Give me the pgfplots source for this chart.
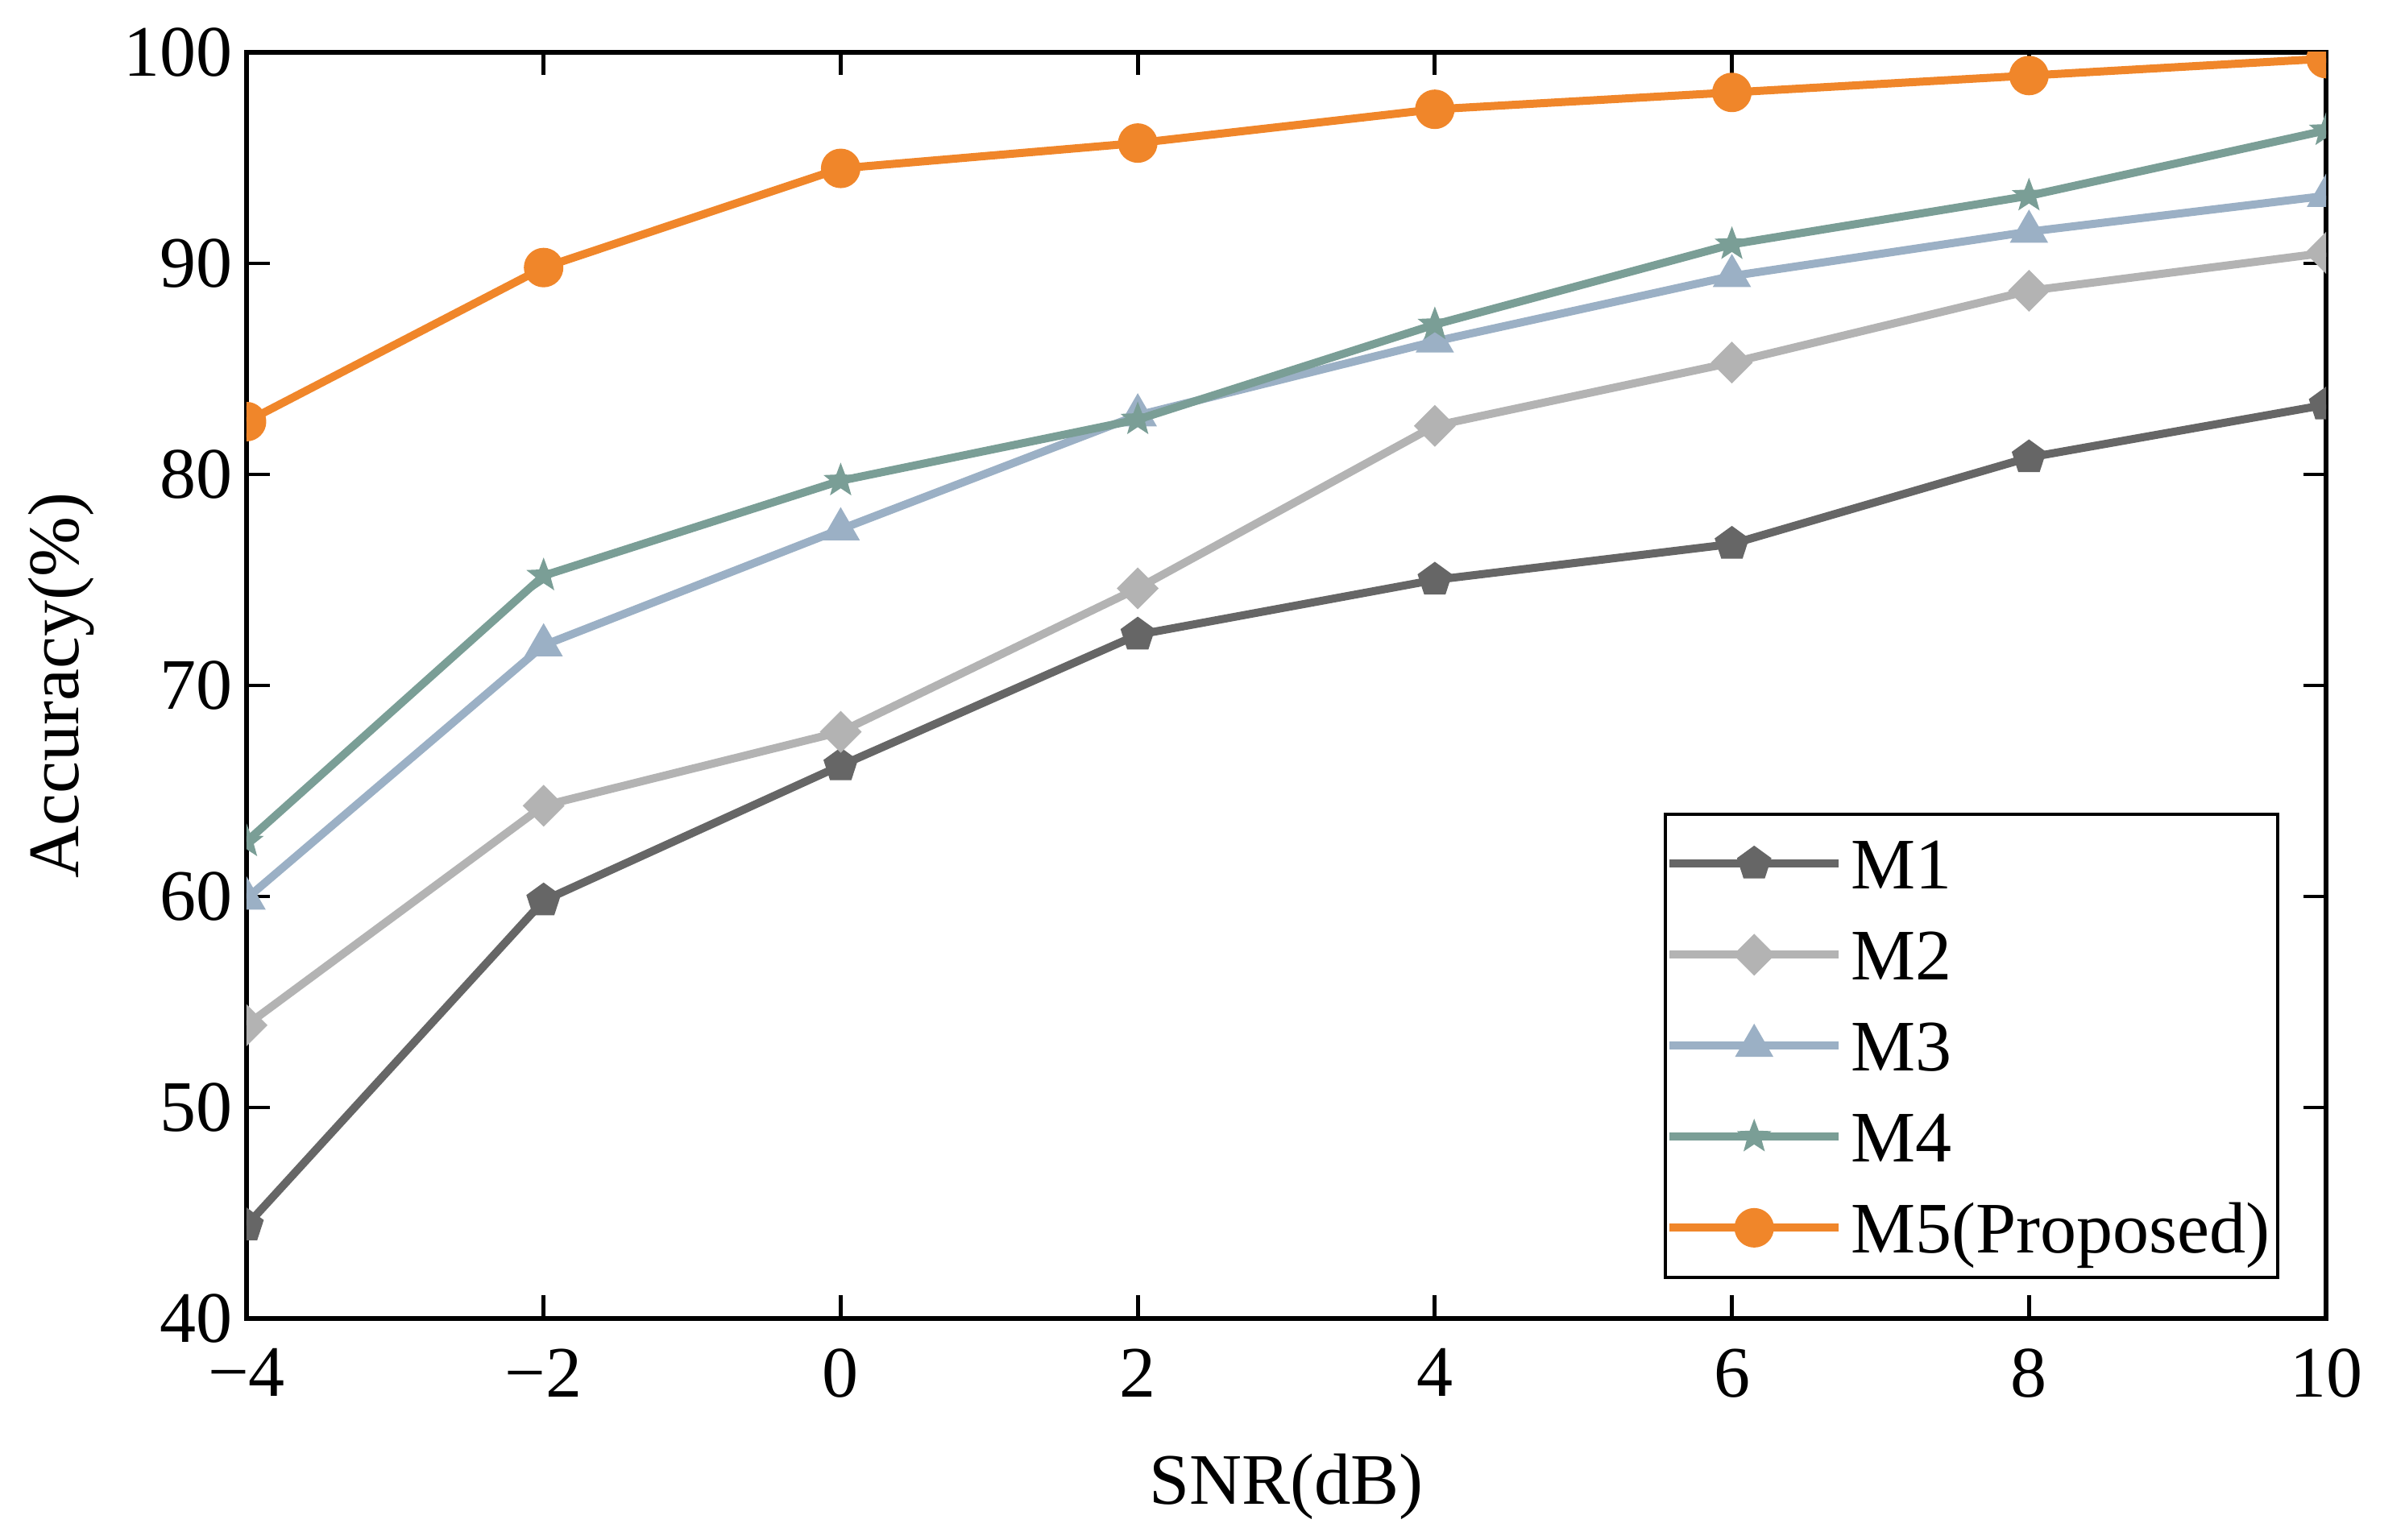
\documentclass[border=0pt]{standalone}
\usepackage{fontspec}
\setmainfont{Liberation Serif}
\usepackage{pgfplots}
\pgfplotsset{compat=1.18}

\definecolor{cM1}{RGB}{102,102,102}
\definecolor{cM2}{RGB}{179,179,179}
\definecolor{cM3}{RGB}{155,176,197}
\definecolor{cM4}{RGB}{122,158,150}
\definecolor{cM5}{RGB}{240,134,42}

% filled marks, \pgfplotmarksize = circumradius
\pgfdeclareplotmark{fpent}{%
  \pgfpathmoveto{\pgfpointpolar{90}{\pgfplotmarksize}}%
  \pgfpathlineto{\pgfpointpolar{162}{\pgfplotmarksize}}%
  \pgfpathlineto{\pgfpointpolar{234}{\pgfplotmarksize}}%
  \pgfpathlineto{\pgfpointpolar{306}{\pgfplotmarksize}}%
  \pgfpathlineto{\pgfpointpolar{18}{\pgfplotmarksize}}%
  \pgfpathclose\pgfusepathqfill}
\pgfdeclareplotmark{fdiam}{%
  \pgfpathmoveto{\pgfpoint{0pt}{\pgfplotmarksize}}%
  \pgfpathlineto{\pgfpoint{\pgfplotmarksize}{0pt}}%
  \pgfpathlineto{\pgfpoint{0pt}{-\pgfplotmarksize}}%
  \pgfpathlineto{\pgfpoint{-\pgfplotmarksize}{0pt}}%
  \pgfpathclose\pgfusepathqfill}
\pgfdeclareplotmark{ftri}{%
  \pgfpathmoveto{\pgfpointpolar{90}{\pgfplotmarksize}}%
  \pgfpathlineto{\pgfpointpolar{210}{\pgfplotmarksize}}%
  \pgfpathlineto{\pgfpointpolar{330}{\pgfplotmarksize}}%
  \pgfpathclose\pgfusepathqfill}
\pgfdeclareplotmark{fstar}{%
  \pgfpathmoveto{\pgfpointpolar{90}{\pgfplotmarksize}}%
  \pgfpathlineto{\pgfpointpolar{126}{0.42\pgfplotmarksize}}%
  \pgfpathlineto{\pgfpointpolar{162}{\pgfplotmarksize}}%
  \pgfpathlineto{\pgfpointpolar{198}{0.42\pgfplotmarksize}}%
  \pgfpathlineto{\pgfpointpolar{234}{\pgfplotmarksize}}%
  \pgfpathlineto{\pgfpointpolar{270}{0.42\pgfplotmarksize}}%
  \pgfpathlineto{\pgfpointpolar{306}{\pgfplotmarksize}}%
  \pgfpathlineto{\pgfpointpolar{342}{0.42\pgfplotmarksize}}%
  \pgfpathlineto{\pgfpointpolar{18}{\pgfplotmarksize}}%
  \pgfpathlineto{\pgfpointpolar{54}{0.42\pgfplotmarksize}}%
  \pgfpathclose\pgfusepathqfill}

\begin{document}
\begin{tikzpicture}[font=\fontsize{18}{21}\selectfont]
  \begin{axis}[name=ax,
      width=516.2pt, height=314.4pt, scale only axis,
      xmin=-4, xmax=10, ymin=40, ymax=100,
      xtick={-4,-2,0,2,4,6,8,10},
      xticklabels={−4,−2,0,2,4,6,8,10},
      ytick={40,50,60,70,80,90,100},
      /pgf/number format/assume math mode=true,
      tick align=inside, major tick length=5.7pt,
      axis line style={line width=1.1pt},
      every tick/.style={black, line width=0.95pt},
      xticklabel style={yshift=-4pt},
      xlabel={SNR(dB)}, ylabel={Accuracy(\%)},
      xlabel style={at={(axis description cs:0.5,0)}, yshift=-41.8pt, anchor=center},
      ylabel style={at={(axis description cs:-0.0891,0.5)}, anchor=center},
      clip marker paths=true,
      every axis plot/.append style={line width=2pt, line join=round},
      legend style={at={(rel axis cs:0.9776,0.0312)}, anchor=south east,
        draw=black, line width=0.8pt, inner xsep=0pt, inner ysep=1pt,
        row sep=0pt,
        nodes={inner xsep=2pt, inner ysep=2.55pt, text height=15pt, text depth=2.5pt}},
      legend cell align=left,
      legend image code/.code={%
        \draw[mark repeat=2,mark phase=2] plot coordinates {(0pt,0pt) (21pt,0pt) (42pt,0pt)};},
    ]
    % M1
    \addplot[color=cM1, mark=fpent, mark size=4.5pt] coordinates {
      (-4,44.4) (-2,59.8) (0,66.2) (2,72.4) (4,75.0) (6,76.7) (8,80.8) (10,83.3)};
    \addlegendentry{M1}
    % M2
    \addplot[color=cM2, mark=fdiam, mark size=5.2pt] coordinates {
      (-4,53.9) (-2,64.3) (0,67.8) (2,74.6) (4,82.3) (6,85.3) (8,88.7) (10,90.5)};
    \addlegendentry{M2}
    % M3
    \addplot[color=cM3, mark=ftri, mark size=5.5pt] coordinates {
      (-4,59.9) (-2,71.9) (0,77.4) (2,82.8) (4,86.3) (6,89.4) (8,91.5) (10,93.2)};
    \addlegendentry{M3}
    % M4
    \addplot[color=cM4, mark=fstar, mark size=4.5pt] coordinates {
      (-4,62.6) (-2,75.2) (0,79.7) (2,82.6) (4,87.1) (6,90.9) (8,93.2) (10,96.3)};
    \addlegendentry{M4}
    % M5 (proposed)
    \addplot[color=cM5, mark=*, mark size=3.9pt] coordinates {
      (-4,82.5) (-2,89.8) (0,94.5) (2,95.7) (4,97.3) (6,98.1) (8,98.9) (10,99.7)};
    \addlegendentry{M5(Proposed)}
  \end{axis}
  \pgfresetboundingbox
  \path ([shift={(-61.2pt,-55pt)}]ax.south west) rectangle ([shift={(19.6pt,13pt)}]ax.north east);
\end{tikzpicture}
\end{document}
